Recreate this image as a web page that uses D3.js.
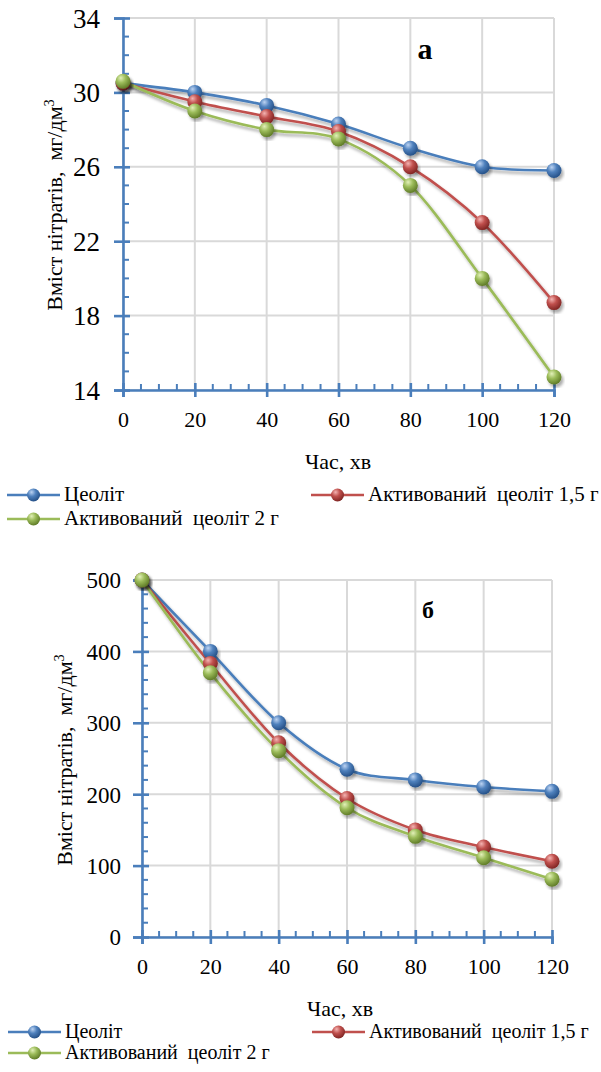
<!DOCTYPE html>
<html>
<head>
<meta charset="utf-8">
<script src="https://cdn.jsdelivr.net/npm/d3@7"></script>
<style>
  html, body { margin: 0; padding: 0; background: #fff; }
  svg { display: block; }
  svg text { font-family: "Liberation Serif", "Times New Roman", Tinos, "DejaVu Serif", "Noto Serif", serif !important; fill: #000; white-space: pre; }
</style>
</head>
<body>
<script>
// ---------- DATA ----------
const times = [0, 20, 40, 60, 80, 100, 120];
const xTickLabels = [0, 20, 40, 60, 80, 100, 120];
const seriesNames = ["Цеоліт", "Активований  цеоліт 1,5 г", "Активований  цеоліт 2 г"];

// panel "а"
const zeoliteA = [30.5, 30.0, 29.3, 28.3, 27.0, 26.0, 25.8];
const activ15A = [30.5, 29.5, 28.7, 27.9, 26.0, 23.0, 18.7];
const activ2A  = [30.6, 29.0, 28.0, 27.5, 25.0, 20.0, 14.7];
const yTicksA  = [14, 18, 22, 26, 30, 34];

// panel "б"
const zeoliteB = [500, 400, 300, 235, 220, 210, 204];
const activ15B = [500, 383, 272, 194, 150, 126, 106];
const activ2B  = [500, 370, 261, 181, 141, 111, 81];
const yTicksB  = [0, 100, 200, 300, 400, 500];

const colors = ["#4a7ebb", "#c0504d", "#9bbb59"];
const sphere = [
  { hi: "#bcd3f2", mid: "#4f81bd", lo: "#244f86" },
  { hi: "#f4b4b2", mid: "#c0504d", lo: "#7e2422" },
  { hi: "#e2f0b8", mid: "#9bbb59", lo: "#5e7a26" }
];

const SERIF = '"Liberation Serif", "Times New Roman", Tinos, "DejaVu Serif", "Noto Serif", serif';

// ---------- SVG ----------
const W = 601, H = 1072;
const svg = d3.select("body").append("svg").attr("width", W).attr("height", H)
  .style("font-family", SERIF);
const defs = svg.append("defs");

const shadow = defs.append("filter").attr("id", "shadow")
  .attr("x", "-20%").attr("y", "-20%").attr("width", "140%").attr("height", "140%");
shadow.append("feDropShadow").attr("dx", 2).attr("dy", 3).attr("stdDeviation", 1.6)
  .attr("flood-color", "#000").attr("flood-opacity", 0.33);

sphere.forEach((s, i) => {
  const g = defs.append("radialGradient").attr("id", "sph" + i)
    .attr("cx", "38%").attr("cy", "32%").attr("r", "70%").attr("fx", "35%").attr("fy", "28%");
  g.append("stop").attr("offset", "0%").attr("stop-color", s.hi);
  g.append("stop").attr("offset", "45%").attr("stop-color", s.mid);
  g.append("stop").attr("offset", "100%").attr("stop-color", s.lo);
});

const axisColor = "#4a7ebb";
const gridColor = "#d9d9d9";

function yTicksDomain(t) { return [t[0], t[t.length - 1]]; }

function drawPanel(cfg) {
  const g = svg.append("g");
  const [y0, y1] = yTicksDomain(cfg.yTicks);
  const x = d3.scaleLinear().domain([0, 120]).range([cfg.left, cfg.right]);
  const y = d3.scaleLinear().domain([y0, y1]).range([cfg.bottom, cfg.top]);

  // grid
  g.append("g").selectAll("line").data(xTickLabels).join("line")
    .attr("x1", d => x(d)).attr("x2", d => x(d))
    .attr("y1", cfg.top).attr("y2", cfg.bottom)
    .attr("stroke", gridColor).attr("stroke-width", 2);
  g.append("g").selectAll("line").data(cfg.yTicks).join("line")
    .attr("x1", cfg.left).attr("x2", cfg.right)
    .attr("y1", d => y(d)).attr("y2", d => y(d))
    .attr("stroke", gridColor).attr("stroke-width", 2);

  // minor ticks
  const yMinor = d3.range(y0, y1, cfg.yMinorStep).filter(v => !cfg.yTicks.includes(v));
  const xMinor = d3.range(0, 120, 5).filter(v => !xTickLabels.includes(v));
  g.append("g").selectAll("line").data(yMinor).join("line")
    .attr("x1", cfg.left).attr("x2", cfg.left + 6)
    .attr("y1", d => y(d)).attr("y2", d => y(d))
    .attr("stroke", axisColor).attr("stroke-width", 2);
  g.append("g").selectAll("line").data(xMinor).join("line")
    .attr("x1", d => x(d)).attr("x2", d => x(d))
    .attr("y1", cfg.bottom).attr("y2", cfg.bottom - 6)
    .attr("stroke", axisColor).attr("stroke-width", 2);

  // y axis
  const ya = g.append("g").attr("transform", `translate(${cfg.left},0)`)
    .call(d3.axisLeft(y).tickValues(cfg.yTicks).tickSize(9).tickPadding(cfg.yPad).tickFormat(d3.format("d")));
  ya.attr("font-family", null);
  ya.select(".domain").attr("stroke", axisColor).attr("stroke-width", 2.6);
  ya.selectAll(".tick line").attr("stroke", axisColor).attr("stroke-width", 2.6).attr("x2", -9).attr("x1", 7);
  ya.selectAll(".tick text").style("font-family", SERIF).attr("font-size", cfg.yFont).attr("fill", "#000")
    .attr("dy", cfg.yDy);

  // x axis
  const xa = g.append("g").attr("transform", `translate(0,${cfg.bottom})`)
    .call(d3.axisBottom(x).tickValues(xTickLabels).tickSize(7).tickPadding(cfg.xPad).tickFormat(d3.format("d")));
  xa.attr("font-family", null);
  xa.select(".domain").attr("stroke", axisColor).attr("stroke-width", 2.6);
  xa.selectAll(".tick line").attr("stroke", axisColor).attr("stroke-width", 2.6).attr("y1", -7).attr("y2", 7);
  xa.selectAll(".tick text").style("font-family", SERIF).attr("font-size", cfg.xFont).attr("fill", "#000");

  // lines
  const line = d3.line().x((d, i) => x(times[i])).y(d => y(d)).curve(d3.curveCardinal.tension(0));
  const sg = g.append("g");
  cfg.series.forEach((vals, k) => {
    sg.append("path").datum(vals).attr("d", line)
      .attr("fill", "none").attr("stroke", colors[k]).attr("stroke-width", 2.6)
      .attr("filter", "url(#shadow)");
  });
  cfg.series.forEach((vals, k) => {
    sg.append("g").selectAll("circle").data(vals).join("circle")
      .attr("cx", (d, i) => x(times[i])).attr("cy", d => y(d)).attr("r", 7.5)
      .attr("fill", `url(#sph${k})`).attr("filter", "url(#shadow)");
  });

  // panel label
  g.append("text").attr("x", cfg.labelX).attr("y", cfg.labelY).attr("text-anchor", "middle")
    .style("font-family", SERIF)
    .attr("font-weight", "bold").attr("font-size", cfg.labelFont).text(cfg.label);

  // y title
  const yt = g.append("text")
    .attr("transform", `translate(${cfg.yTitleX},${cfg.yTitleY}) rotate(-90)`)
    .style("font-family", SERIF)
    .attr("text-anchor", "middle").attr("font-size", cfg.titleFont);
  yt.append("tspan").text("Вміст нітратів,  мг/дм");
  yt.append("tspan").attr("baseline-shift", "super").attr("font-size", cfg.titleFont * 0.65).text("3");

  // x title
  g.append("text").attr("x", cfg.xTitleX).attr("y", cfg.xTitleY).attr("text-anchor", "middle")
    .style("font-family", SERIF)
    .attr("font-size", cfg.titleFont).text("Час, хв");

  // legend
  const leg = [
    { x0: cfg.legX[0], y: cfg.legY[0] },
    { x0: cfg.legX[1], y: cfg.legY[0] },
    { x0: cfg.legX[0], y: cfg.legY[1] }
  ];
  leg.forEach((p, k) => {
    const lg = g.append("g");
    lg.append("line").attr("x1", p.x0).attr("x2", p.x0 + 53).attr("y1", p.y).attr("y2", p.y)
      .attr("stroke", colors[k]).attr("stroke-width", 2.6);
    lg.append("circle").attr("cx", p.x0 + 26.5).attr("cy", p.y).attr("r", 6.5)
      .attr("fill", `url(#sph${k})`);
    lg.append("text").attr("x", p.x0 + 57).attr("y", p.y + 6).attr("font-size", cfg.legFont)
      .style("font-family", SERIF)
      .text(seriesNames[k]);
  });
}

drawPanel({
  left: 123, right: 554, top: 18, bottom: 390,
  yTicks: yTicksA, yMinorStep: 1, series: [zeoliteA, activ15A, activ2A],
  yFont: 27, yPad: 14, yDy: "0.34em", xFont: 22, xPad: 14,
  label: "а", labelX: 425, labelY: 59, labelFont: 30,
  yTitleX: 62, yTitleY: 205, titleFont: 22,
  xTitleX: 338, xTitleY: 469,
  legX: [7, 311], legY: [495, 519], legFont: 21
});

drawPanel({
  left: 142, right: 552, top: 580, bottom: 937,
  yTicks: yTicksB, yMinorStep: 20, series: [zeoliteB, activ15B, activ2B],
  yFont: 23, yPad: 12, yDy: "0.34em", xFont: 22, xPad: 14,
  label: "б", labelX: 428, labelY: 618, labelFont: 24,
  yTitleX: 72, yTitleY: 760, titleFont: 22,
  xTitleX: 340, xTitleY: 1016,
  legX: [8, 312], legY: [1032, 1053], legFont: 20
});
</script>
</body>
</html>
